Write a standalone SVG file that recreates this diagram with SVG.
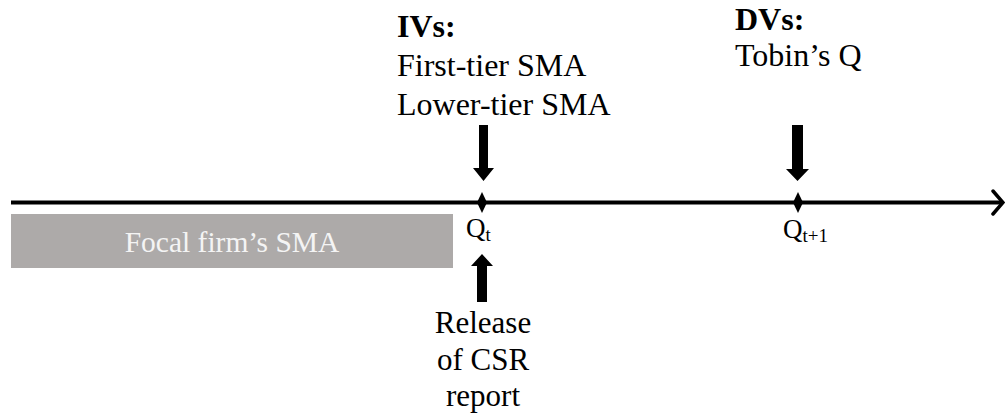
<svg xmlns="http://www.w3.org/2000/svg" width="1005" height="417" viewBox="0 0 1005 417">
  <style>
    .t { font-family: 'Liberation Serif', 'Times New Roman', serif; fill: #000; }
    .lbl { font-size: 32px; }
    .rel { font-size: 31px; }
    .hd { font-size: 32px; font-weight: bold; }
    .q { font-size: 27px; }
    .sub { font-size: 19px; }
    .band-text { font-family: 'Liberation Serif', 'Times New Roman', serif; font-size: 29.5px; fill: #f4f4f4; }
    .axis { stroke: #000; stroke-width: 4; fill: none; }
    .tip { stroke: #000; stroke-width: 3.5; fill: none; stroke-linecap: round; stroke-linejoin: miter; }
    .blk { fill: #000; }
  </style>

  <!-- Period band before the report date -->
  <g id="focal-firm-sma">
    <rect x="11" y="214" width="442" height="54" fill="#adaaa9"/>
    <text class="band-text" x="232" y="252" text-anchor="middle">Focal firm’s SMA</text>
  </g>

  <!-- Timeline and arrows -->
  <g id="connectors">
    <line class="axis" x1="11" y1="202.5" x2="1002" y2="202.5"/>
    <polyline class="tip" points="993,191 1003,202.5 993,214"/>
    <!-- down arrow into Qt -->
    <polygon class="blk" points="479,125 488,125 488,168 494,168 483.5,181 473,168 479,168"/>
    <!-- up arrow from the report release -->
    <polygon class="blk" points="477,302 487,302 487,266 493,266 482,254 471,266 477,266"/>
    <!-- down arrow into Qt+1 -->
    <polygon class="blk" points="792,125 803,125 803,169 809,169 797.5,181 786,169 792,169"/>
  </g>

  <g id="iv-block">
    <text class="t hd" x="397" y="37">IVs:</text>
    <text class="t lbl" x="397" y="76">First-tier SMA</text>
    <text class="t lbl" x="397" y="115">Lower-tier SMA</text>
  </g>

  <g id="dv-block">
    <text class="t hd" x="735" y="30">DVs:</text>
    <text class="t lbl" x="735" y="66">Tobin’s Q</text>
  </g>

  <g id="qt">
    <polygon class="blk" points="482,192 487,202.5 482,213 477,202.5"/>
    <text class="t q" x="466" y="237">Q<tspan class="sub" dy="4">t</tspan></text>
  </g>

  <g id="qt1">
    <polygon class="blk" points="798,192 803,202.5 798,213 793,202.5"/>
    <text class="t q" x="783" y="238">Q<tspan class="sub" dy="4">t+1</tspan></text>
  </g>

  <g id="csr-release">
    <text class="t rel" x="483" y="333" text-anchor="middle">Release</text>
    <text class="t rel" x="483" y="370" text-anchor="middle">of CSR</text>
    <text class="t rel" x="483" y="406" text-anchor="middle">report</text>
  </g>
</svg>
